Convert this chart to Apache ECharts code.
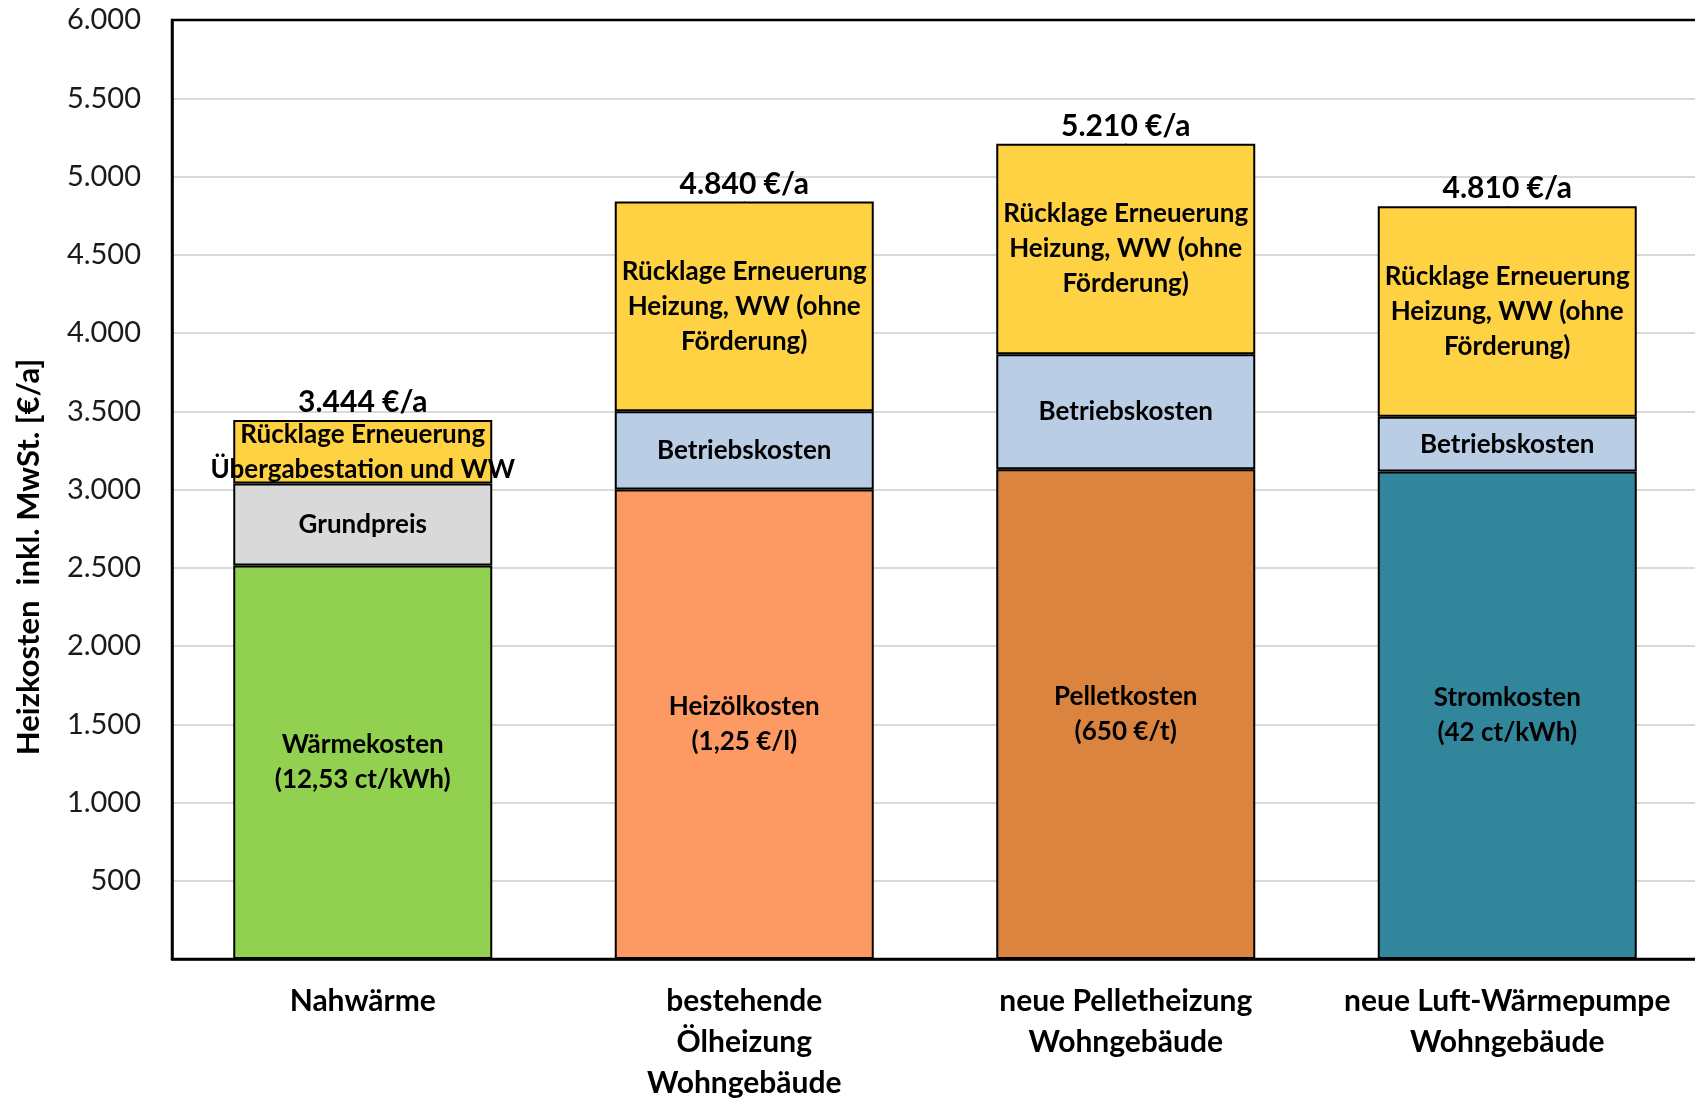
<!DOCTYPE html>
<html>
<head>
  <meta charset="UTF-8">
  <title>Heizkosten</title>
  <style>
    html, body {
      margin: 0;
      padding: 0;
      background: #fff;
    }

    #content1 {
      width: 1695px;
      height: 1098px;
    }
  </style>
  <script src="https://cdn.jsdelivr.net/npm/echarts@6/dist/echarts.min.js"></script>
</head>

<body>
<div id="content1"></div>

<script type="text/javascript">
  const categories = [
    'Nahwärme',
    'bestehende\nÖlheizung\nWohngebäude',
    'neue Pelletheizung\nWohngebäude',
    'neue Luft-Wärmepumpe\nWohngebäude'
  ];

  // unterer, mittlerer und oberer Balkenteil
  const baseValues = [2515, 3000, 3130, 3115];
  const midValues = [523, 500, 735, 350];
  const topValues = [406, 1340, 1345, 1345];
  const totals = [3444, 4840, 5210, 4810];

  const baseLabels = ['Wärmekosten\n(12,53 ct/kWh)', 'Heizölkosten\n(1,25 €/l)', 'Pelletkosten\n(650 €/t)', 'Stromkosten\n(42 ct/kWh)'];
  const midLabels = ['Grundpreis', 'Betriebskosten', 'Betriebskosten', 'Betriebskosten'];
  const topLabels = [
    'Rücklage Erneuerung\nÜbergabestation und WW',
    'Rücklage Erneuerung\nHeizung, WW (ohne\nFörderung)',
    'Rücklage Erneuerung\nHeizung, WW (ohne\nFörderung)',
    'Rücklage Erneuerung\nHeizung, WW (ohne\nFörderung)'
  ];

  const baseColors = ['#92D050', '#FD9A64', '#DB843F', '#31869B'];
  const midColors = ['#D9D9D9', '#B9CDE5', '#B9CDE5', '#B9CDE5'];
  const topColor = '#FFD243';

  const font = 'Lato, "Open Sans", sans-serif';

  const myChart = echarts.init(document.getElementById('content1'));

  function fmt(v) {
    if (v >= 1000) {
      return Math.floor(v / 1000) + '.' + String(v % 1000).padStart(3, '0');
    }
    return String(v);
  }

  function segment(values, labels, colors) {
    return values.map(function (v, i) {
      return {
        value: v,
        itemStyle: { color: Array.isArray(colors) ? colors[i] : colors },
        label: { formatter: labels[i] }
      };
    });
  }

  const barLabel = {
    show: true,
    position: 'inside',
    color: '#000',
    fontFamily: font,
    fontWeight: 'bold',
    fontSize: 26,
    lineHeight: 35
  };

  const barItem = {
    borderColor: '#000',
    borderWidth: 2
  };

  let option = {
    animation: false,
    textStyle: { fontFamily: font },
    grid: {
      left: 172,
      right: -3,
      top: 20,
      bottom: 139,
      outerBoundsMode: 'none',
      containLabel: false,
      show: true,
      borderColor: '#000',
      borderWidth: 2.5,
      z: 3
    },
    xAxis: {
      type: 'category',
      data: categories,
      axisTick: { show: false },
      axisLine: { lineStyle: { color: '#000', width: 2.5 } },
      axisLabel: {
        color: '#000',
        fontFamily: font,
        fontWeight: 'bold',
        fontSize: 30,
        lineHeight: 41,
        margin: 22,
        interval: 0
      }
    },
    yAxis: {
      type: 'value',
      min: 0,
      max: 6000,
      interval: 500,
      axisLine: { show: true, lineStyle: { color: '#000', width: 2.5 } },
      axisTick: { show: false },
      splitLine: { lineStyle: { color: '#D9D9D9', width: 2 } },
      axisLabel: {
        color: '#1a1a1a',
        fontFamily: font,
        fontSize: 29,
        margin: 31,
        formatter: function (v) {
          return v === 0 ? '' : fmt(v);
        }
      }
    },
    graphic: [{
      type: 'text',
      x: 29,
      y: 557,
      rotation: Math.PI / 2,
      style: {
        text: 'Heizkosten  inkl. MwSt. [€/a]',
        fill: '#000',
        font: 'bold 31px ' + font,
        textAlign: 'center',
        textVerticalAlign: 'middle'
      }
    }],
    series: [{
      type: 'bar',
      stack: 'kosten',
      barWidth: 259,
      z: 2,
      data: segment(baseValues, baseLabels, baseColors),
      itemStyle: barItem,
      label: barLabel
    }, {
      type: 'bar',
      stack: 'kosten',
      barWidth: 259,
      z: 2,
      data: segment(midValues, midLabels, midColors),
      itemStyle: barItem,
      label: barLabel
    }, {
      type: 'bar',
      stack: 'kosten',
      barWidth: 259,
      z: 2,
      data: segment(topValues, topLabels, topColor),
      itemStyle: barItem,
      label: barLabel
    }, {
      type: 'line',
      data: totals,
      symbol: 'circle',
      symbolSize: 1,
      z: 1,
      itemStyle: { color: '#000' },
      lineStyle: { width: 0, opacity: 0 },
      label: {
        show: true,
        position: 'top',
        distance: 2,
        color: '#000',
        fontFamily: font,
        fontWeight: 'bold',
        fontSize: 30,
        formatter: function (p) {
          return fmt(p.value) + ' €/a';
        }
      }
    }]
  };

  myChart.setOption(option);
</script>
</body>
</html>
